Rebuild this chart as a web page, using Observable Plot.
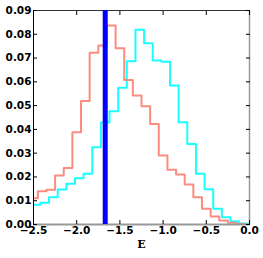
<!DOCTYPE html>
<html>
<head>
<meta charset="utf-8">
<script src="https://cdn.jsdelivr.net/npm/d3@7"></script>
<script src="https://cdn.jsdelivr.net/npm/@observablehq/plot@0.6"></script>
<style>
  html, body { margin: 0; padding: 0; background: #fff; }
</style>
</head>
<body>
<div id="chart"></div>
<script>
// Red (salmon) histogram: bin edges and densities
const redEdges = [-2.55, -2.45, -2.35, -2.25, -2.15, -2.05, -1.95, -1.85, -1.75, -1.65, -1.55, -1.45, -1.35, -1.25, -1.15, -1.05, -0.95, -0.85, -0.75, -0.65, -0.55, -0.45, -0.35, -0.25, -0.15, -0.05];
const redValues = [0.011, 0.014, 0.0146, 0.0206, 0.0238, 0.0388, 0.0519, 0.0722, 0.0753, 0.0837, 0.0741, 0.0608, 0.0542, 0.0497, 0.0423, 0.029, 0.023, 0.021, 0.0168, 0.0115, 0.0066, 0.0034, 0.0017, 0.0007, 0.0002];

// Cyan histogram: bin edges and densities
const cyanEdges = [-2.52, -2.42, -2.32, -2.22, -2.12, -2.02, -1.92, -1.82, -1.72, -1.62, -1.52, -1.42, -1.32, -1.22, -1.12, -1.02, -0.92, -0.82, -0.72, -0.62, -0.52, -0.42, -0.32, -0.22, -0.12, -0.02];
const cyanValues = [0.0083, 0.0091, 0.0115, 0.0147, 0.0171, 0.0195, 0.0213, 0.0325, 0.0429, 0.0476, 0.0575, 0.0687, 0.0819, 0.0762, 0.069, 0.0684, 0.0585, 0.043, 0.0339, 0.0213, 0.0148, 0.0066, 0.0031, 0.0014, 0.0004];

// Vertical marker
const markerE = [-1.67];

// Axis ticks
const xTicks = [-2.5, -2.0, -1.5, -1.0, -0.5, 0.0];
const yTicks = [0.00, 0.01, 0.02, 0.03, 0.04, 0.05, 0.06, 0.07, 0.08, 0.09];
const xLabel = "E";

const toSteps = (edges, values) =>
  [{x: edges[0], y: 0}].concat(edges.map((e, i) => ({x: e, y: i < values.length ? values[i] : 0})));

const redData = toSteps(redEdges, redValues);
const cyanData = toSteps(cyanEdges, cyanValues);

const fmtX = d => d3.format(".1f")(d).replace("-", "\u2212");
const fmtY = d => d3.format(".2f")(d);

const chart = Plot.plot({
  width: 263,
  height: 258,
  marginLeft: 33,
  marginRight: 14,
  marginTop: 10,
  marginBottom: 34,
  style: {fontFamily: "DejaVu Sans", fontWeight: "bold", fontSize: "10.5px", background: "#fff", overflow: "visible"},
  x: {domain: [-2.5, 0]},
  y: {domain: [0, 0.09]},
  marks: [
    Plot.line(cyanData, {x: "x", y: "y", curve: "step-after", stroke: "#00FFFF", strokeWidth: 2, opacity: 0.9, clip: true}),
    Plot.line(redData, {x: "x", y: "y", curve: "step-after", stroke: "#FA8072", strokeWidth: 2, opacity: 0.9, clip: true}),
    Plot.ruleX([-2.5], {stroke: "#000", strokeWidth: 1}),
    Plot.ruleY([0.09], {stroke: "#333", strokeWidth: 1}),
    Plot.ruleY([0], {stroke: "#999", strokeWidth: 2}),
    Plot.ruleX([0], {stroke: "#999", strokeWidth: 1.5}),
    Plot.ruleX(markerE, {y1: 0, y2: 0.09, stroke: "#0000FF", strokeWidth: 5}),
    Plot.axisX({anchor: "bottom", ticks: xTicks, tickFormat: fmtX, tickSize: -4, tickPadding: 6, label: null, stroke: "#000", fill: "#000"}),
    Plot.axisX({anchor: "top", ticks: xTicks, tickFormat: () => "", tickSize: -4, label: null, stroke: "#000"}),
    Plot.axisY({anchor: "left", ticks: yTicks, tickFormat: fmtY, tickSize: -4, tickPadding: 6, label: null, stroke: "#000", fill: "#000"}),
    Plot.axisY({anchor: "right", ticks: yTicks, tickFormat: () => "", tickSize: -4, label: null, stroke: "#000"}),
    Plot.text([xLabel], {frameAnchor: "bottom", dy: 23, text: d => d, fontFamily: "DejaVu Serif", fontWeight: "bold", fontSize: 11, fill: "#000"})
  ]
});
document.getElementById("chart").appendChild(chart);
</script>
</body>
</html>
